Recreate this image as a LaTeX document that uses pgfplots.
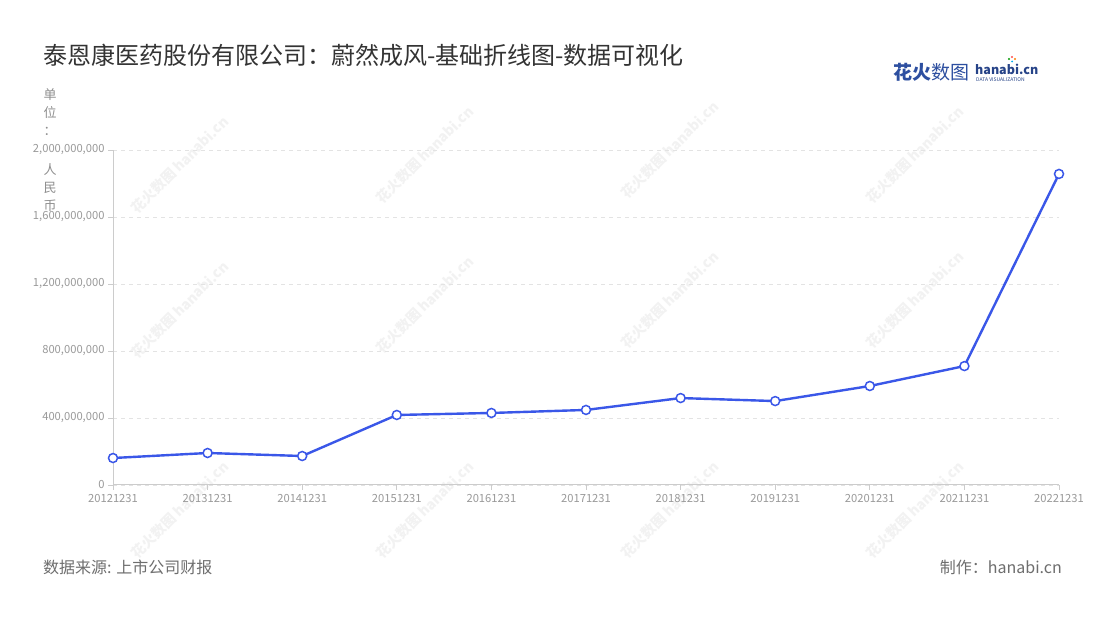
\documentclass[border=0pt]{standalone}
\usepackage{fontspec}
\setmainfont{Noto Sans CJK SC}
\usepackage{pgfplots}
\pgfplotsset{compat=1.18}
\definecolor{linec}{HTML}{3A57E8}
\definecolor{tickc}{HTML}{999999}
\definecolor{axisc}{HTML}{CCCCCC}
\definecolor{gridc}{HTML}{E3E3E3}
\definecolor{titlec}{HTML}{333333}
\definecolor{footc}{HTML}{6E6E6E}
\definecolor{logoc}{HTML}{2D4FA0}
\begin{document}
\begin{tikzpicture}[x=1bp,y=1bp]
\fill[white] (0,0) rectangle (1100,620);
\path[use as bounding box] (0,0) rectangle (1100,620);
% watermarks
\foreach \wx/\wy in {180/455,425/465,670/470,915/465,180/310,425/315,670/320,915/320,180/110,425/110,670/110,915/110}{
  \node[rotate=45,text=black!5,font=\fontsize{14bp}{14bp}\selectfont\bfseries,inner sep=0] at (\wx,\wy) {花火数图 hanabi.cn};
}
\begin{axis}[
  at={(113bp,135bp)}, anchor=south west,
  scale only axis, width=946bp, height=335bp,
  xmin=0, xmax=10, ymin=0, ymax=2000000000,
  axis x line*=bottom, axis y line*=left,
  axis line style={-, draw=axisc, line width=1bp},
  xtick={0,...,10},
  xticklabels={20121231,20131231,20141231,20151231,20161231,20171231,20181231,20191231,20201231,20211231,20221231},
  ytick={0,400000000,800000000,1200000000,1600000000,2000000000},
  yticklabels={0,{400,000,000},{800,000,000},{1,200,000,000},{1,600,000,000},{2,000,000,000}},
  scaled y ticks=false,
  tick align=outside, major tick length=5bp,
  tick style={draw=axisc, line width=0.8bp},
  ticklabel style={text=tickc, font=\fontsize{11.2bp}{11.2bp}\selectfont},
  /pgf/number format/assume math mode=true,
  xticklabel style={yshift=-1bp},
  yticklabel style={xshift=0bp},
  ymajorgrids,
  grid style={draw=gridc, dash pattern=on 4bp off 4bp, line width=0.8bp},
  clip=false,
]
\addplot[color=linec, line width=2.4bp, mark=*, mark size=4.5bp,
  mark options={fill=white, draw=linec, line width=1.5bp}]
  coordinates {(0,161000000) (1,191000000) (2,173000000) (3,418000000) (4,430000000) (5,448000000) (6,519000000) (7,501000000) (8,591000000) (9,710000000) (10,1857000000)};
\end{axis}
% title
\node[anchor=west, text=titlec, font=\fontsize{24bp}{24bp}\selectfont, inner sep=0] at (43,565) {泰恩康医药股份有限公司：蔚然成风-基础折线图-数据可视化};
% unit label
\foreach \ch/\cy in {单/95,位/113,：/131,人/170,民/188,币/206}{
  \node[text=tickc!110, font=\fontsize{13bp}{13bp}\selectfont, inner sep=0] at (50,620-\cy) {\ch};
}
% footer
\node[anchor=west, text=footc, font=\fontsize{16bp}{16bp}\selectfont, inner sep=0] at (43,53) {数据来源: 上市公司财报};
\node[anchor=east, text=footc, font=\fontsize{16bp}{16bp}\selectfont, inner sep=0] at (1062,53) {制作：hanabi.cn};
% logo
\node[anchor=west, text=logoc, font=\fontsize{19bp}{19bp}\selectfont\bfseries, inner sep=0] at (893,548) {花火\mdseries 数图};
\node[anchor=west, text=logoc!85!black, font=\fontsize{12.5bp}{12.5bp}\selectfont\bfseries, inner sep=0] at (975,551) {hanabi.cn};
\node[anchor=west, text=logoc!85!black, font=\fontsize{5bp}{5bp}\selectfont, inner sep=0] at (976,540) {DATA VISUALIZATION};
\fill[red!70] (1012,563) circle (1.1);
\fill[orange] (1015,561) circle (1.1);
\fill[green!60!black] (1009,561) circle (1.1);
\fill[cyan] (1012,558.5) circle (1.0);
\end{tikzpicture}
\end{document}
